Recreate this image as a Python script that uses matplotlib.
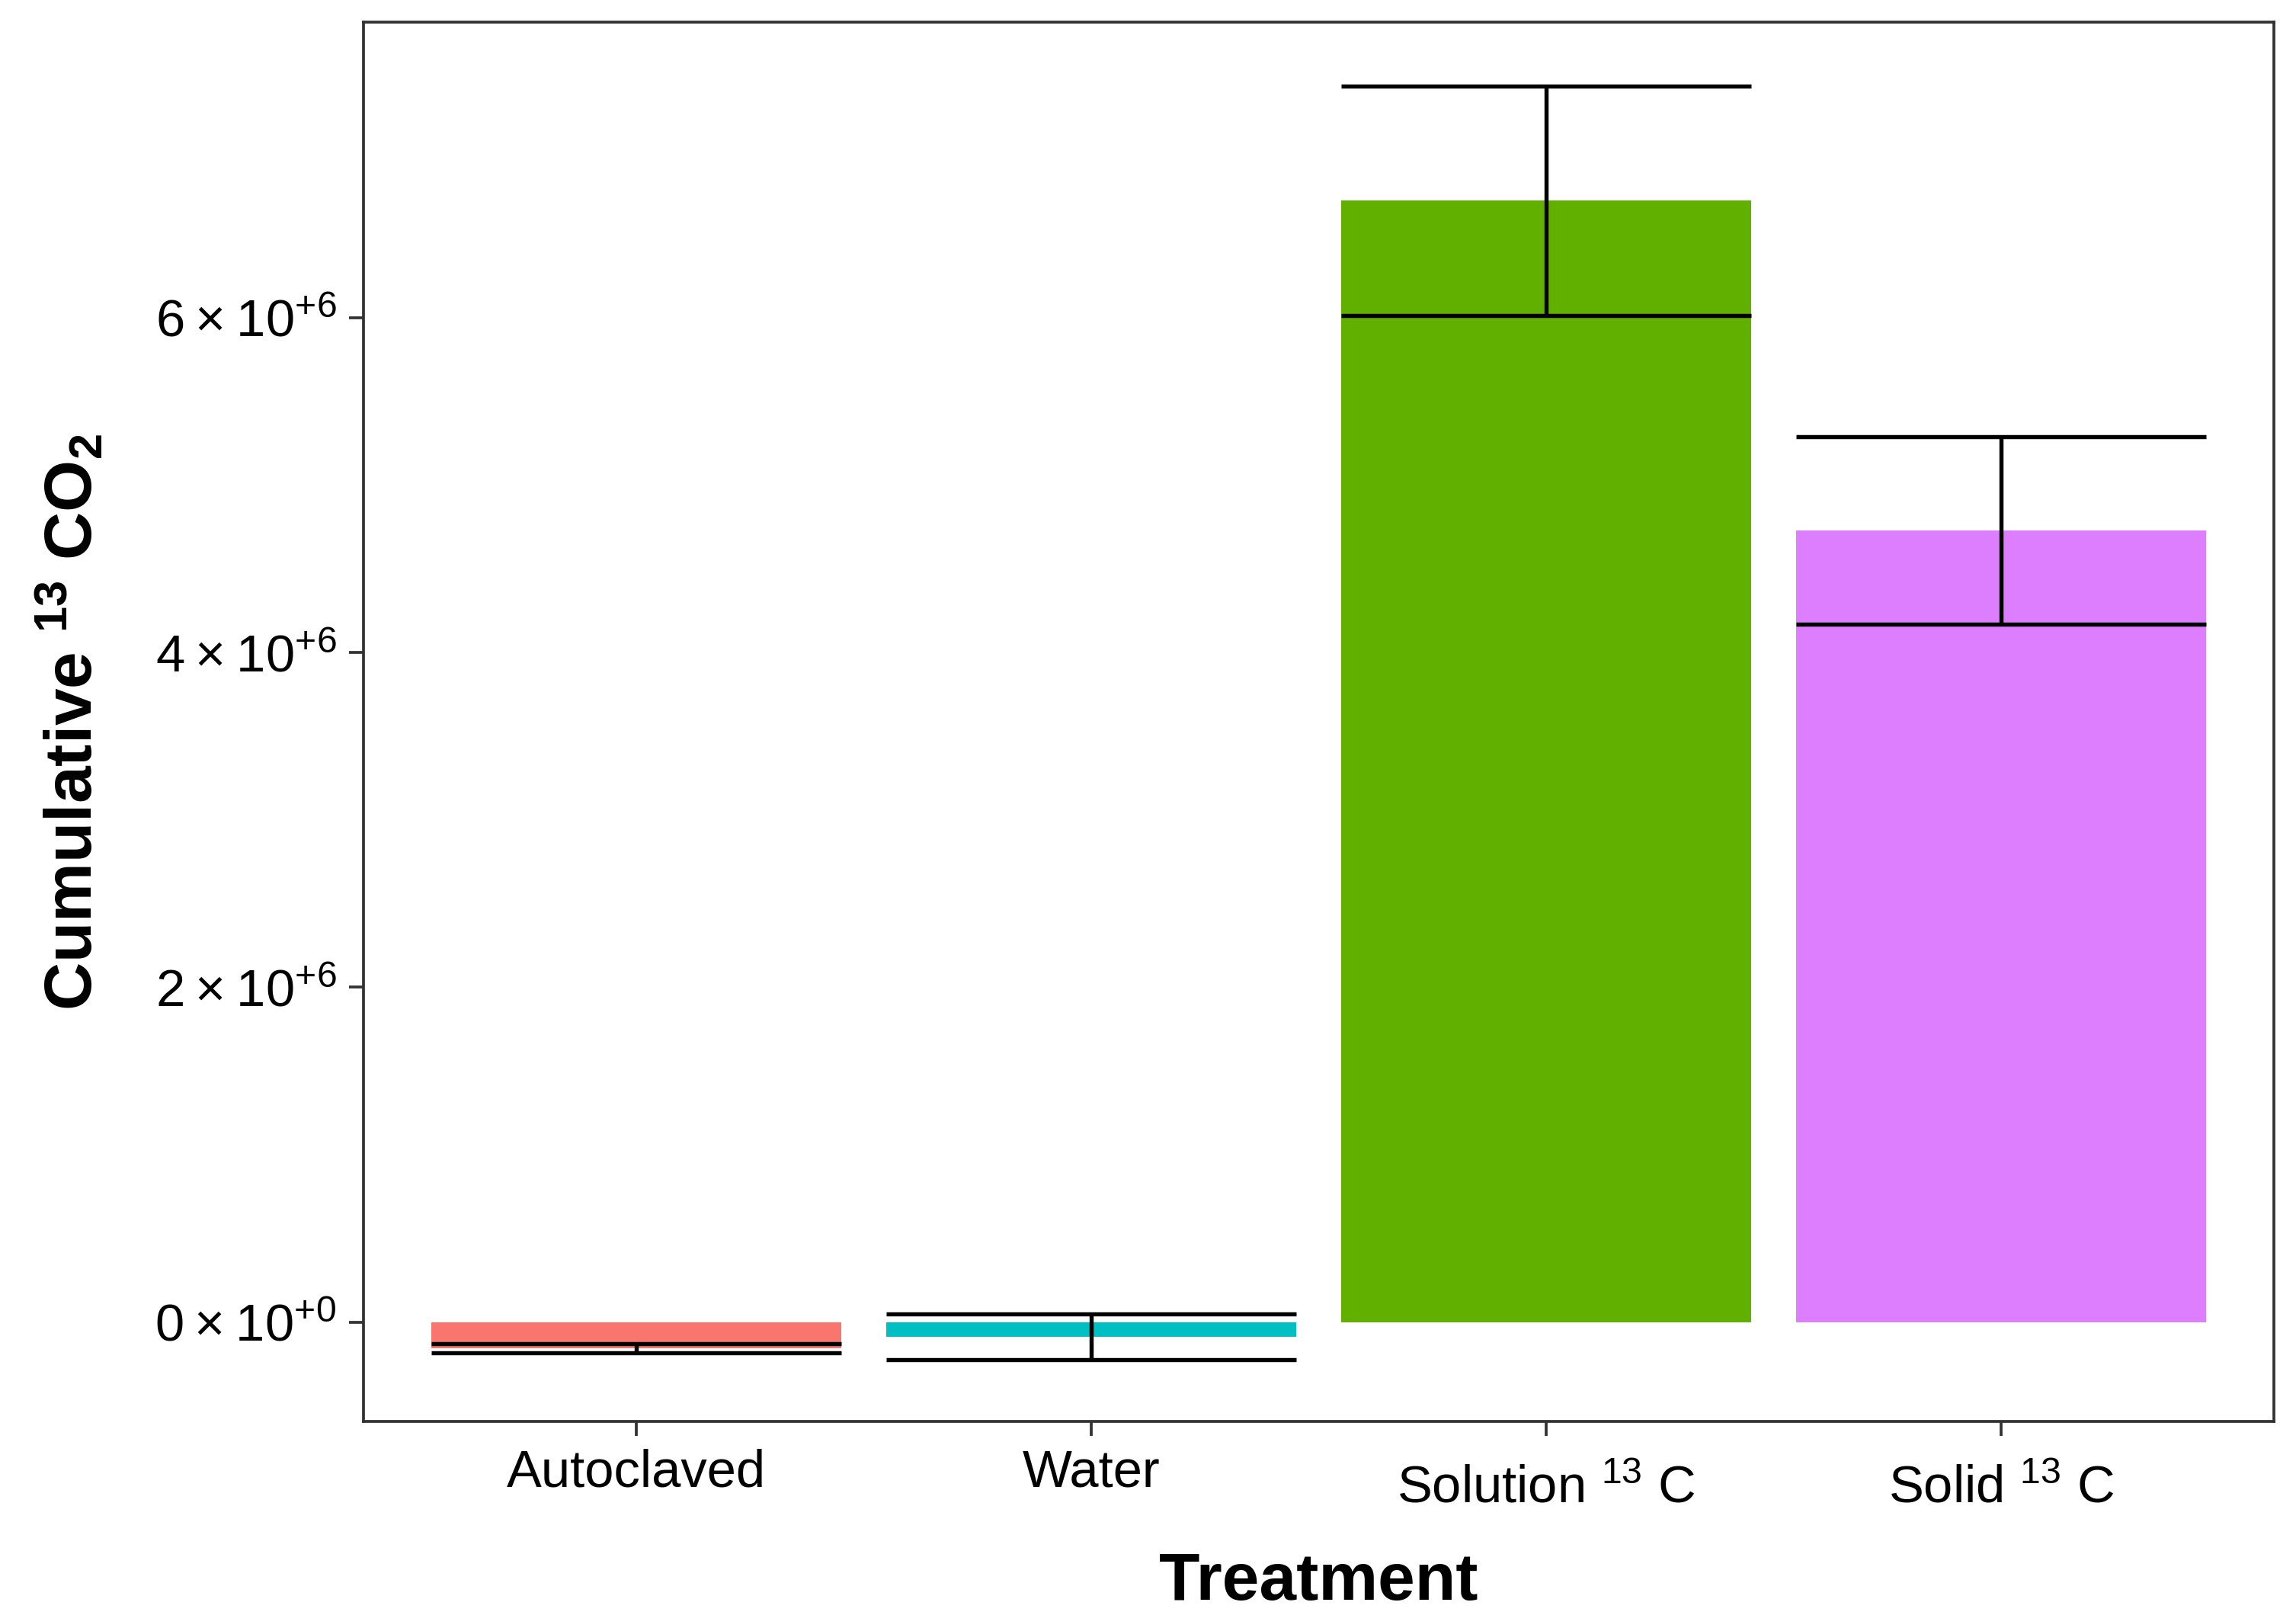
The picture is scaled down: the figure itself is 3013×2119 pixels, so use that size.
import numpy as np
import matplotlib
matplotlib.use("Agg")
import matplotlib.pyplot as plt
from matplotlib.ticker import FixedLocator, FuncFormatter

plt.rcParams['font.family'] = ['Liberation Sans', 'DejaVu Sans']
plt.rcParams['mathtext.fontset'] = 'custom'
plt.rcParams['mathtext.rm'] = 'Liberation Sans'
plt.rcParams['mathtext.it'] = 'Liberation Sans:italic'
plt.rcParams['mathtext.bf'] = 'Liberation Sans:bold'

# data
treatments = ['Autoclaved', 'Water', r'Solution $^{13}$ C', r'Solid $^{13}$ C']
means = [-0.155e6, -0.088e6, 6.70e6, 4.73e6]
ses = [0.027e6, 0.135e6, 0.685e6, 0.56e6]
colors = ['#F8766D', '#00BFC4', '#61B000', '#DC7EFF']
yticks = [0, 2e6, 4e6, 6e6]

fig = plt.figure(figsize=(3013 / 300, 2119 / 300), dpi=300)
ax = fig.add_axes([0.1582, 0.1197, 0.9904 - 0.1582, 0.9864 - 0.1197])

x = np.arange(1, len(treatments) + 1)
ax.bar(x, means, width=0.9, color=colors, zorder=2)

# ggplot-style error bars: whiskers as wide as bars
for xi, m, s in zip(x, means, ses):
    ax.hlines([m - s, m + s], xi - 0.45, xi + 0.45, color='black', lw=1.3, zorder=3)
    ax.vlines(xi, m - s, m + s, color='black', lw=1.3, zorder=3)

ax.set_xlim(0.4, 4.6)
ax.set_ylim(-0.595e6, 7.767e6)

ax.xaxis.set_major_locator(FixedLocator(x))
ax.set_xticklabels(treatments, fontsize=16.5)


def sci(v, pos):
    if v == 0:
        return r'$0\hspace{0.04}\times\hspace{0.04}10^{+0}$'
    e = int(np.floor(np.log10(abs(v))))
    return r'$%d\hspace{0.04}\times\hspace{0.04}10^{+%d}$' % (round(v / 10 ** e), e)


ax.yaxis.set_major_locator(FixedLocator(yticks))
ax.yaxis.set_major_formatter(FuncFormatter(sci))
ax.tick_params(axis='y', labelsize=16.5)

ax.tick_params(direction='out', length=4.5, width=0.9, color='#333333', labelcolor='black', pad=4)
for sp in ax.spines.values():
    sp.set_linewidth(0.9)
    sp.set_color('#333333')

# labels with a superscript sit a bit lower (top-aligned like ggplot)
for t, lab in zip(ax.xaxis.get_major_ticks(), treatments):
    if '$' in lab:
        t.set_pad(9)

ax.set_xlabel('Treatment', fontsize=21, fontweight='bold', labelpad=12)
ax.set_ylabel(r'Cumulative $^{\mathbf{13}}$ CO$_{\mathbf{2}}$', fontsize=21, fontweight='bold', labelpad=15.5)

fig.savefig('out.png', dpi=300, facecolor='white')
